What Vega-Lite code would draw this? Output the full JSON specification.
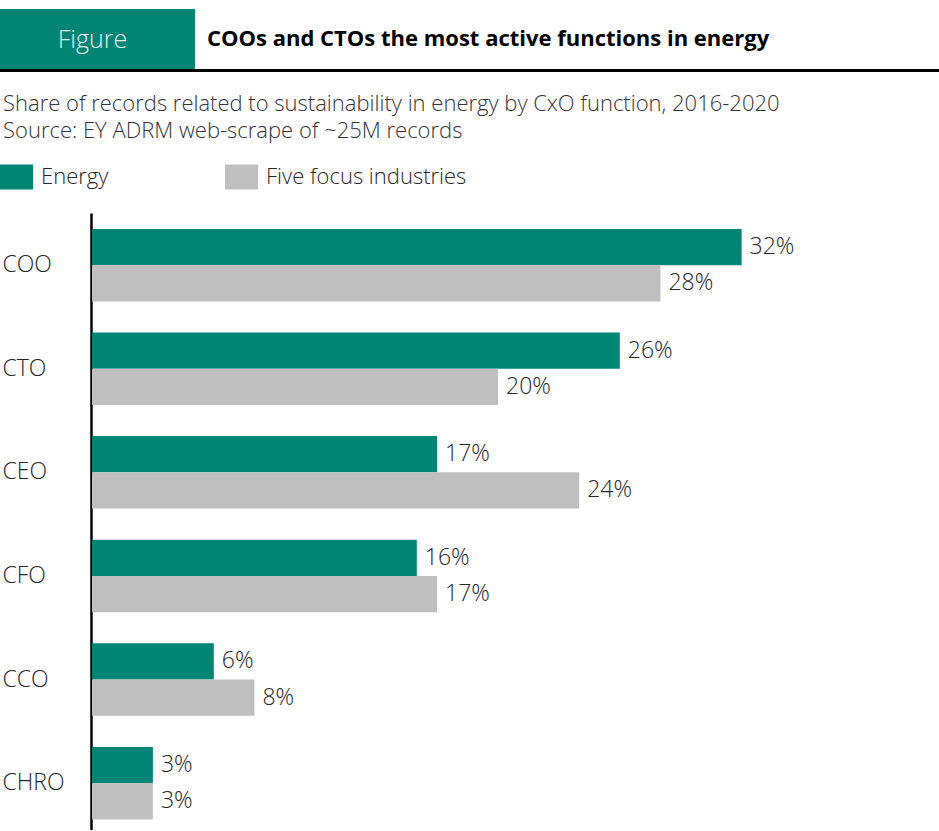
{
  "$schema": "https://vega.github.io/schema/vega-lite/v6.json",
  "background": "white",
  "padding": {"left": 0, "top": 9, "right": 0, "bottom": 0},
  "config": {"font": "Open Sans", "view": {"stroke": null}},
  "spacing": 21,
  "vconcat": [
    {
      "spacing": 0,
      "vconcat": [
        {
          "spacing": 0,
          "hconcat": [
            {
              "width": 195,
              "height": 60,
              "view": {"fill": "#008575", "stroke": null},
              "data": {"values": [{"label": "Figure"}]},
              "mark": {"type": "text", "color": "#e3f1ee", "fontSize": 25, "font": "Open Sans", "fontWeight": 300, "dx": -5, "dy": 1, "baseline": "middle"},
              "encoding": {"text": {"field": "label"}}
            },
            {
              "width": 24,
              "height": 60,
              "data": {"values": [{"heading": "COOs and CTOs the most active functions in energy"}]},
              "mark": {"type": "text", "align": "left", "baseline": "middle", "fontSize": 22, "fontWeight": "bold", "font": "Open Sans", "color": "#000000"},
              "encoding": {"text": {"field": "heading"}}
            }
          ]
        },
        {
          "width": 939,
          "height": 3,
          "view": {"fill": "#000000", "stroke": null},
          "data": {"values": []},
          "mark": "point"
        }
      ]
    },
    {
      "width": 939,
      "height": 617,
      "title": {
        "text": [
          "Share of records related to sustainability in energy by CxO function, 2016-2020",
          "Source: EY ADRM web-scrape of ~25M records"
        ],
        "anchor": "start",
        "frame": "group",
        "dx": 3,
        "fontSize": 22,
        "fontWeight": 300,
        "font": "Open Sans",
        "color": "#333333",
        "lineHeight": 27,
        "offset": 70
      },
      "data": {
        "values": [
          {"function": "COO", "series": "Energy", "share": 0.32},
          {"function": "COO", "series": "Five focus industries", "share": 0.28},
          {"function": "CTO", "series": "Energy", "share": 0.26},
          {"function": "CTO", "series": "Five focus industries", "share": 0.20},
          {"function": "CEO", "series": "Energy", "share": 0.17},
          {"function": "CEO", "series": "Five focus industries", "share": 0.24},
          {"function": "CFO", "series": "Energy", "share": 0.16},
          {"function": "CFO", "series": "Five focus industries", "share": 0.17},
          {"function": "CCO", "series": "Energy", "share": 0.06},
          {"function": "CCO", "series": "Five focus industries", "share": 0.08},
          {"function": "CHRO", "series": "Energy", "share": 0.03},
          {"function": "CHRO", "series": "Five focus industries", "share": 0.03}
        ]
      },
      "encoding": {
        "y": {
          "field": "function",
          "type": "nominal",
          "sort": ["COO", "CTO", "CEO", "CFO", "CCO", "CHRO"],
          "scale": {"paddingInner": 0.3, "paddingOuter": 0.128, "align": 0.6},
          "axis": {
            "title": null,
            "domain": true,
            "domainColor": "#000000",
            "domainWidth": 2.5,
            "offset": -91,
            "ticks": false,
            "tickSize": 0,
            "grid": false,
            "labelAlign": "left",
            "labelBaseline": "middle",
            "labelPadding": 89,
            "labelFontSize": 23,
            "labelFont": "Open Sans",
            "labelFontWeight": 300,
            "labelColor": "#262626"
          }
        },
        "yOffset": {
          "field": "series",
          "sort": ["Energy", "Five focus industries"],
          "scale": {"paddingInner": 0, "paddingOuter": 0}
        },
        "x": {
          "field": "share",
          "type": "quantitative",
          "scale": {"domain": [0, 0.4], "range": [92, 904]},
          "axis": null
        }
      },
      "layer": [
        {
          "mark": {"type": "bar"},
          "encoding": {
            "color": {
              "field": "series",
              "type": "nominal",
              "scale": {"domain": ["Energy", "Five focus industries"], "range": ["#008575", "#bfbfbf"]},
              "legend": {
                "title": null,
                "orient": "none",
                "legendX": 0,
                "legendY": 151,
                "direction": "horizontal",
                "symbolType": "M-1,-0.76H1V0.76H-1Z",
                "symbolSize": 1089,
                "symbolStrokeWidth": 0,
                "symbolOpacity": 1,
                "labelFontSize": 22,
                "labelFont": "Open Sans",
                "labelFontWeight": 300,
                "labelColor": "#262626",
                "labelOffset": 8,
                "columnPadding": 116,
                "labelLimit": 400
              }
            }
          }
        },
        {
          "mark": {"type": "text", "align": "left", "baseline": "middle", "dx": 8, "fontSize": 23, "font": "Open Sans", "fontWeight": 300, "color": "#262626"},
          "encoding": {"text": {"field": "share", "type": "quantitative", "format": ".0%"}}
        }
      ]
    }
  ]
}
